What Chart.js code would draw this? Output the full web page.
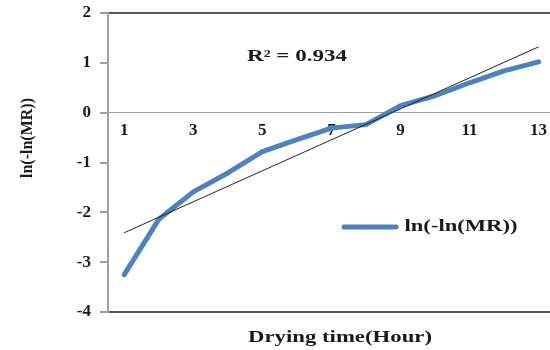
<!DOCTYPE html>
<html>
<head>
<meta charset="utf-8">
<script src="https://cdn.jsdelivr.net/npm/chart.js@4.4.1/dist/chart.umd.min.js"></script>
<style>
  html, body { margin: 0; padding: 0; background: #fff; }
  #wrap { width: 550px; height: 350px; }
</style>
</head>
<body>
<div id="wrap"><canvas id="chart" width="550" height="350"></canvas></div>
<script>
// ln(-ln(MR)) vs drying time
const hours = [1, 2, 3, 4, 5, 6, 7, 8, 9, 10, 11, 12, 13];
const lnlnMR = [-3.25, -2.14, -1.59, -1.21, -0.78, -0.54, -0.31, -0.24, 0.14, 0.34, 0.6, 0.84, 1.02];
const trendHours = [1, 13];
const trendValues = [-2.41, 1.32];
const xTickLabels = [1, 3, 5, 7, 9, 11, 13];
const yTickLabels = [-4, -3, -2, -1, 0, 1, 2];
const seriesName = "ln(-ln(MR))";
const r2Text = "R\u00b2 = 0.934";
const xTitle = "Drying time(Hour)";
const yTitle = "ln(-ln(MR))";

const serif = "'Liberation Serif', 'Times New Roman', serif";

// text drawn wider than normal, like the stretched original
function stretchedText(ctx, text, cx, cy, size, width) {
    ctx.save();
    ctx.font = "bold " + size + "px " + serif;
    const w = ctx.measureText(text).width;
    const sx = width / w;
    ctx.translate(cx, cy);
    ctx.scale(sx, 1);
    ctx.textAlign = "center";
    ctx.textBaseline = "middle";
    ctx.fillStyle = "#1a1a1a";
    ctx.fillText(text, 0, 0);
    ctx.restore();
}

const extras = {
    id: "extras",
    afterDraw(chart) {
        const ctx = chart.ctx;
        stretchedText(ctx, r2Text, 297, 57, 16, 100);
        stretchedText(ctx, xTitle, 340, 338, 17, 184);

        // y title, rotated
        ctx.save();
        ctx.translate(28, 138);
        ctx.rotate(-Math.PI / 2);
        ctx.font = "bold 16px " + serif;
        ctx.textAlign = "center";
        ctx.textBaseline = "middle";
        ctx.fillStyle = "#1a1a1a";
        ctx.fillText(yTitle, 0, 0);
        ctx.restore();

        // legend inside plot
        ctx.save();
        ctx.strokeStyle = "#4F81BD";
        ctx.lineWidth = 5;
        ctx.lineCap = "round";
        ctx.beginPath();
        ctx.moveTo(344, 227);
        ctx.lineTo(396, 227);
        ctx.stroke();
        ctx.restore();
        stretchedText(ctx, seriesName, 461, 227, 16, 113);
    }
};

new Chart(document.getElementById("chart"), {
    type: "line",
    data: {
        datasets: [
            {
                label: seriesName,
                data: hours.map((h, i) => ({ x: h, y: lnlnMR[i] })),
                borderColor: "#4F81BD",
                borderWidth: 5,
                borderCapStyle: "round",
                borderJoinStyle: "round",
                pointRadius: 0,
                tension: 0,
                order: 2
            },
            {
                label: "trend",
                data: trendHours.map((h, i) => ({ x: h, y: trendValues[i] })),
                borderColor: "#222",
                borderWidth: 1,
                pointRadius: 0,
                order: 1
            }
        ]
    },
    options: {
        responsive: false,
        animation: false,
        layout: { padding: { top: 13, bottom: 38, left: 0, right: 0 } },
        plugins: {
            legend: { display: false },
            tooltip: { enabled: false }
        },
        scales: {
            x: {
                type: "linear",
                position: { y: 0 },
                min: 0.53,
                max: 13.33,
                afterBuildTicks: axis => { axis.ticks = xTickLabels.map(v => ({ value: v })); },
                grid: { display: false },
                border: { color: "#a0a0a0", width: 1 },
                ticks: {
                    color: "#1a1a1a",
                    padding: 0,
                    maxRotation: 0,
                    font: { family: serif, size: 17, weight: "bold" }
                }
            },
            y: {
                min: -4,
                max: 2,
                afterBuildTicks: axis => { axis.ticks = yTickLabels.map(v => ({ value: v })); },
                afterFit: axis => {
                    axis.width = 108;
                    axis.paddingTop = 0;
                    axis.paddingBottom = 0;
                },
                grid: {
                    color: c => (c.tick && (c.tick.value === 2 || c.tick.value === -4)) ? "#5a5a5a" : "rgba(0,0,0,0)",
                    lineWidth: 2,
                    tickColor: "#a0a0a0",
                    tickLength: 8
                },
                border: { color: "#a0a0a0", width: 2 },
                ticks: {
                    color: "#1a1a1a",
                    padding: 9,
                    font: { family: serif, size: 17, weight: "bold" }
                }
            }
        }
    },
    plugins: [extras]
});
</script>
</body>
</html>
